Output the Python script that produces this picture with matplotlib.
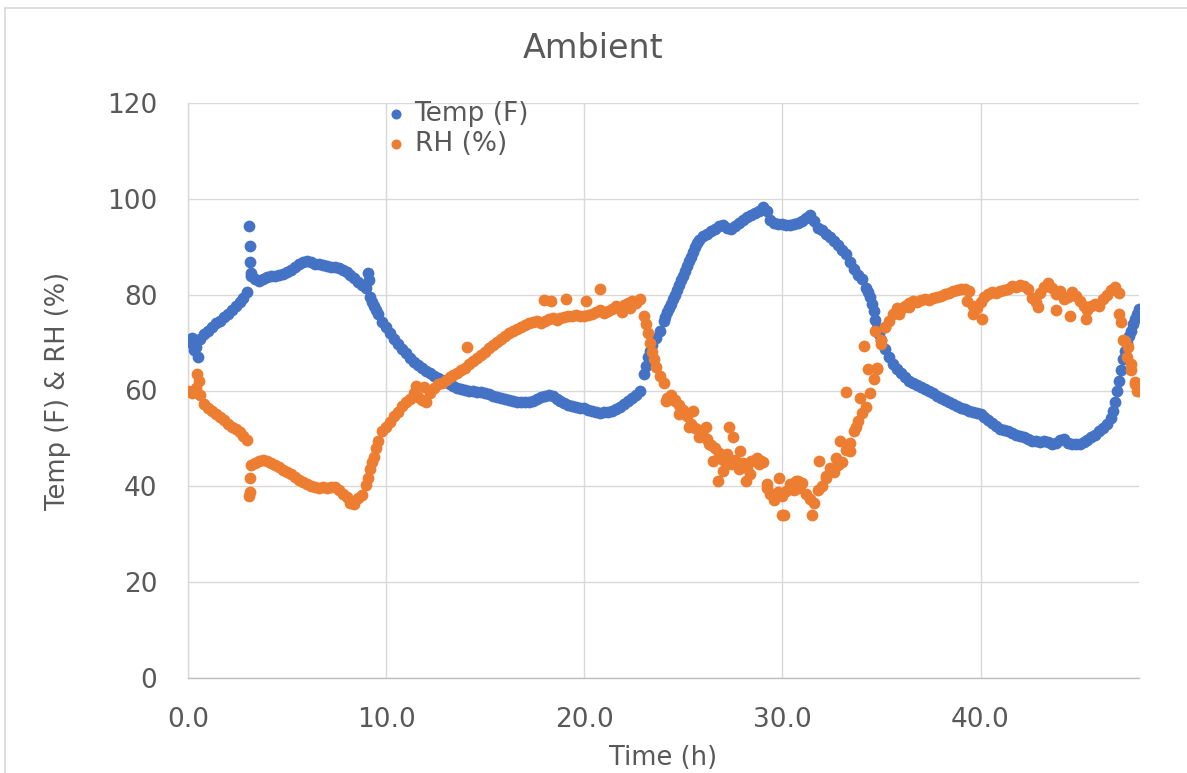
import numpy as np
import matplotlib
matplotlib.use('Agg')
import matplotlib.pyplot as plt
from matplotlib.lines import Line2D

# logger readings, every 0.2 h
time_h = np.round(np.arange(0, 48.01, 0.2), 2)

temp_f = [
    70.2, 71.0, 69.0, 70.8, 71.8, 72.5, 73.2, 74.0, 74.6, 75.3,
    76.0, 76.8, 77.6, 78.5, 79.4, 80.6, 84.0, 83.3, 82.8, 83.2,
    83.6, 83.8, 84.0, 84.1, 84.4, 84.8, 85.2, 85.8, 86.4, 86.9,
    87.0, 86.8, 86.5, 86.4, 86.2, 86.0, 85.8, 85.7, 85.5, 85.2,
    84.8, 84.2, 83.5, 82.6, 82.0, 81.3, 79.5, 77.6, 76.0, 74.3,
    73.2, 72.0, 70.8, 69.8, 68.6, 67.8, 66.8, 66.0, 65.3, 64.6,
    64.0, 63.6, 63.0, 62.6, 62.2, 61.8, 61.4, 61.0, 60.6, 60.3,
    60.2, 60.0, 59.8, 59.7, 59.6, 59.4, 59.2, 58.9, 58.6, 58.4,
    58.2, 58.0, 57.8, 57.7, 57.6, 57.5, 57.6, 57.8, 58.2, 58.6,
    58.9, 59.0, 58.8, 58.2, 57.8, 57.4, 57.0, 56.8, 56.6, 56.4,
    56.3, 56.0, 55.8, 55.6, 55.4, 55.5, 55.6, 55.8, 56.1, 56.6,
    57.2, 57.8, 58.4, 59.0, 60.0, 63.5, 67.0, 69.5, 71.0, 72.5,
    74.5, 76.3, 78.0, 80.0, 82.0, 84.0, 86.0, 87.8, 90.0, 91.5,
    92.2, 92.7, 93.2, 93.7, 94.4, 94.6, 94.0, 93.7, 94.4, 95.0,
    95.6, 96.2, 96.6, 97.0, 97.5, 98.2, 97.4, 95.6, 95.0, 94.8,
    94.8, 94.6, 94.6, 94.8, 95.0, 95.4, 96.0, 96.6, 95.4, 94.0,
    93.4, 92.6, 92.0, 91.2, 90.4, 89.4, 88.4, 86.8, 85.4, 84.2,
    83.2, 81.4, 79.5, 76.5, 73.0, 70.5, 68.6, 67.0, 65.6, 64.5,
    63.6, 62.8, 62.0, 61.6, 61.2, 60.8, 60.4, 60.0, 59.4, 58.9,
    58.4, 58.0, 57.6, 57.1, 56.7, 56.4, 56.1, 55.8, 55.6, 55.4,
    55.0, 54.4, 53.8, 53.2, 52.6, 52.0, 51.7, 51.6, 51.2, 50.8,
    50.5, 50.2, 49.8, 49.5, 49.4, 49.3, 49.4, 49.2, 48.8, 49.0,
    49.6, 49.8, 49.0, 48.8, 48.8, 48.9, 49.2, 49.6, 50.2, 50.8,
    51.6, 52.2, 53.0, 54.2, 57.5, 62.0, 66.5, 70.0, 72.5, 75.0,
    77.0,
]

rh_pct = [
    60.0, 59.5, 60.5, 59.0, 57.2, 56.3, 55.8, 55.0, 54.4, 53.8,
    53.0, 52.4, 51.9, 51.3, 50.6, 49.6, 44.4, 44.8, 45.2, 45.4,
    45.2, 44.8, 44.4, 44.0, 43.5, 43.0, 42.5, 42.0, 41.4, 40.9,
    40.4, 40.0, 39.8, 39.7, 39.8, 39.6, 39.8, 39.9, 39.2, 38.4,
    37.8, 36.6, 36.4, 37.6, 38.2, 40.2, 43.6, 46.2, 49.5, 51.6,
    52.4, 53.5, 54.6, 55.6, 56.8, 57.6, 58.2, 59.5, 58.6, 58.0,
    57.6, 59.4, 60.6, 61.4, 61.6, 62.2, 62.8, 63.2, 63.6, 64.2,
    64.8, 65.6, 66.2, 66.8, 67.4, 68.0, 68.8, 69.4, 70.2, 70.8,
    71.4, 72.0, 72.4, 72.8, 73.2, 73.6, 74.0, 74.2, 74.6, 74.0,
    74.6, 75.0, 75.2, 74.8, 75.2, 75.4, 75.6, 75.6, 75.8, 75.5,
    75.6, 75.8, 76.0, 76.4, 76.8, 76.2, 76.6, 77.0, 77.6, 77.2,
    77.8, 78.2, 78.6, 78.2, 79.0, 75.5, 72.0, 68.0, 65.0, 63.0,
    61.5, 58.5, 59.0, 58.0, 57.0, 56.0, 54.6, 53.0, 52.2, 51.8,
    50.6, 49.8, 48.6, 48.0, 47.0, 45.6, 46.8, 44.6, 45.4, 43.6,
    44.8, 43.8, 45.2, 45.6, 44.6, 45.0, 40.5, 38.4, 37.2, 38.8,
    38.0, 39.0, 40.4, 39.2, 41.2, 40.6, 38.4, 37.4, 36.6, 39.2,
    40.0, 42.2, 43.8, 43.0, 44.4, 45.0, 47.6, 49.0, 51.6, 53.6,
    55.2, 56.6, 59.4, 62.4, 64.6, 70.5, 73.2, 74.6, 76.0, 77.2,
    77.0, 77.6, 78.2, 78.6, 78.4, 78.8, 79.0, 78.8, 79.2, 79.6,
    79.8, 80.2, 80.4, 80.8, 81.0, 81.2, 81.1, 80.8, 77.6, 77.2,
    78.4, 79.6, 80.2, 80.6, 80.4, 80.8, 81.0, 81.2, 81.8, 81.6,
    82.0, 81.8, 81.2, 79.2, 78.4, 80.4, 81.6, 82.4, 81.4, 80.2,
    80.8, 79.0, 79.6, 80.6, 79.8, 78.6, 77.6, 76.8, 77.6, 78.0,
    77.6, 79.0, 80.0, 81.0, 81.6, 80.4, 70.5, 67.0, 64.2, 61.8,
    60.0,
]

# readings between the 0.2 h steps (spikes, steep parts and scattered points)
temp_extra_t = [0.3, 0.5, 3.1, 3.12, 3.14, 3.16, 9.1, 9.15, 9.3, 9.5,
                23.1, 23.3, 24.1, 24.3, 24.5, 24.7, 24.9, 25.1, 25.3, 25.5, 25.7,
                34.3, 34.5, 34.7, 34.9,
                46.7, 46.9, 47.1, 47.3, 47.5, 47.7, 47.9]
temp_extra = [68.5, 67.0, 94.3, 90.2, 86.8, 84.5, 84.5, 83.0, 78.5, 76.8,
              65.2, 68.3, 75.4, 77.2, 79.0, 81.0, 83.0, 85.0, 87.0, 89.0, 90.8,
              80.5, 78.0, 74.8, 71.8,
              55.8, 59.8, 64.2, 68.2, 71.3, 73.8, 76.0]

rh_extra_t = [0.45, 0.55, 3.1, 3.12, 3.15, 9.1, 9.3, 9.5, 11.5, 11.9, 14.1,
              17.95, 18.3, 19.1, 20.1, 20.8, 21.9, 22.3, 23.1, 23.3, 23.5,
              24.14, 24.6, 24.8, 25.5, 25.3, 25.8, 26.15, 26.3, 26.5, 26.75,
              27.0, 27.33, 27.5, 27.84, 28.17, 28.35, 28.7, 28.94, 29.2, 29.6,
              29.85, 30.0, 30.1, 30.7, 30.85, 31.5, 31.86, 32.2, 32.7, 32.9,
              33.2, 33.4, 33.7, 33.9, 34.1, 34.3, 34.8, 34.7, 35.0, 35.2,
              35.9, 36.4, 40.1, 39.3, 39.6,
              42.9, 43.8, 44.5, 45.3, 47.0, 47.1, 47.3, 47.45, 47.6, 47.8, 47.9]
rh_extra = [63.4, 62.0, 38.0, 38.8, 41.8, 41.8, 45.0, 48.0, 61.0, 60.8, 69.0,
            78.9, 78.7, 79.1, 78.7, 81.2, 76.4, 77.2, 73.8, 70.0, 66.5,
            57.8, 57.8, 55.1, 55.7, 52.3, 50.2, 52.3, 48.8, 45.3, 41.1,
            43.2, 52.3, 50.2, 47.4, 41.1, 42.5, 46.0, 45.3, 39.7, 37.6,
            41.8, 34.1, 34.1, 41.1, 39.7, 34.1, 45.3, 41.8, 46.0, 49.5,
            59.6, 47.4, 52.3, 58.5, 69.3, 64.5, 64.5, 72.5, 69.7, 73.2,
            76.0, 77.4, 74.9, 78.7, 76.0,
            77.4, 76.7, 75.6, 74.9, 76.0, 74.2, 70.4, 69.0, 65.5, 61.3, 60.0]

blue = '#4472C4'
orange = '#ED7D31'
txt = '#595959'
grid_c = '#D9D9D9'

fig = plt.figure(figsize=(11.87, 7.73), dpi=100)
ax = fig.add_axes([188/1187, 1 - 678/773, 951/1187, 575/773])

ax.scatter(np.concatenate([time_h, temp_extra_t]), np.concatenate([temp_f, temp_extra]),
           s=72, color=blue, linewidths=0, label='Temp (F)', zorder=3)
ax.scatter(np.concatenate([time_h, rh_extra_t]), np.concatenate([rh_pct, rh_extra]),
           s=72, color=orange, linewidths=0, label='RH (%)', zorder=4)

ax.set_xlim(0, 48)
ax.set_ylim(0, 120)
ax.set_xticks([0, 10, 20, 30, 40])
ax.set_xticklabels(['%.1f' % v for v in [0, 10, 20, 30, 40]])
ax.set_yticks(range(0, 121, 20))
ax.grid(True, color=grid_c, linewidth=1.0, zorder=0)
ax.set_axisbelow(True)
for s in ['top', 'right']:
    ax.spines[s].set_visible(False)
ax.spines['left'].set_color(grid_c)
ax.spines['bottom'].set_color('#BFBFBF')
ax.spines['left'].set_linewidth(1.0)
ax.spines['bottom'].set_linewidth(1.0)
ax.tick_params(axis='both', length=0, labelsize=19, labelcolor=txt)
ax.tick_params(axis='x', pad=21)
ax.tick_params(axis='y', pad=22)

leg = ax.legend(loc='upper left', bbox_to_anchor=(0.205, 1.003), frameon=False,
                fontsize=19, handletextpad=0.2, handlelength=1.0, labelspacing=0.15,
                borderpad=0, borderaxespad=0, scatterpoints=1, markerscale=0.85)
for t in leg.get_texts():
    t.set_color(txt)

fig.text(0.5, 1 - 48/773, 'Ambient', ha='center', va='center', fontsize=24, color=txt)
fig.text(663.5/1187, 1 - 758/773, 'Time (h)', ha='center', va='center', fontsize=18.5, color=txt)
fig.text(58/1187, 1 - 391/773, 'Temp (F) & RH (%)', ha='center', va='center',
         rotation=90, fontsize=18.5, color=txt)

# chart area border (top and left edges visible in the original)
fig.add_artist(Line2D([5/1187, 1], [1 - 8/773, 1 - 8/773], color=grid_c, linewidth=1.2))
fig.add_artist(Line2D([5/1187, 5/1187], [0, 1 - 8/773], color=grid_c, linewidth=1.2))

fig.savefig('out.png', dpi=100)
